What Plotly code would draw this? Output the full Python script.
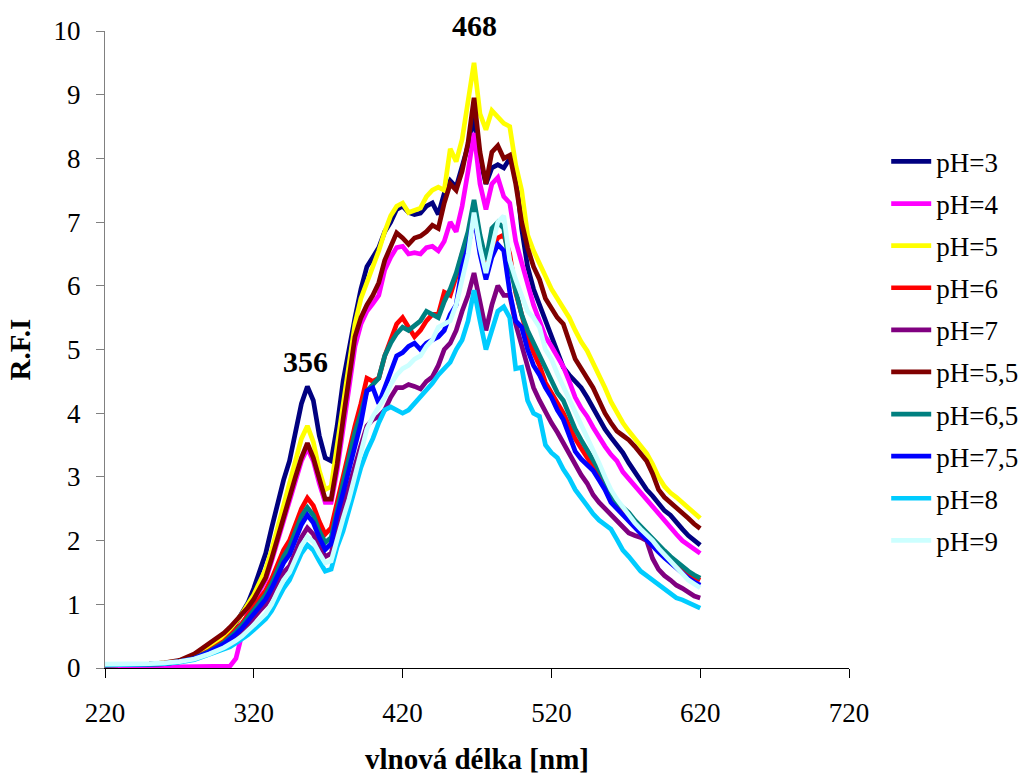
import plotly.graph_objects as go

# Wavelength grid (nm)
wavelength = [220, 230, 240, 250, 260, 270, 280, 290] + list(range(300, 621, 4))

series_names = ["pH=3", "pH=4", "pH=5", "pH=6", "pH=7", "pH=5,5", "pH=6,5", "pH=7,5", "pH=8", "pH=9"]

ph3 = [0.05, 0.05, 0.05, 0.06, 0.07, 0.1, 0.17, 0.3,
       0.45, 0.55, 0.7, 0.85, 1.02, 1.25, 1.55, 1.8, 2.2, 2.6,
       2.95, 3.25, 3.7, 4.15, 4.42, 4.2, 3.65, 3.3, 3.25, 3.8,
       4.5, 5.05, 5.5, 5.95, 6.3, 6.45, 6.6, 6.85, 7.0, 7.2,
       7.25, 7.15, 7.12, 7.14, 7.25, 7.3, 7.12, 7.45, 7.65, 7.55,
       7.9, 8.2, 8.65, 8.0, 7.6, 7.85, 7.9, 7.85, 8.0, 7.8,
       6.9, 6.3, 5.95, 5.7, 5.45, 5.2, 4.95, 4.72, 4.6, 4.5,
       4.4, 4.25, 4.08, 3.9, 3.75, 3.62, 3.5, 3.38, 3.22, 3.08,
       2.95, 2.8, 2.7, 2.57, 2.47, 2.4, 2.28, 2.18, 2.08, 2.0,
       1.93]

ph4 = [0.04, 0.04, 0.04, 0.04, 0.03, 0.02, 0.02, 0.02,
       0.02, 0.03, 0.15, 0.55, 0.9, 1.05, 1.2, 1.38, 1.68, 2.0,
       2.32, 2.58, 2.92, 3.25, 3.45, 3.25, 2.9, 2.6, 2.6, 3.1,
       3.75, 4.45, 5.05, 5.4, 5.6, 5.72, 5.85, 6.25, 6.45, 6.6,
       6.62, 6.5, 6.52, 6.5, 6.6, 6.62, 6.55, 6.7, 7.0, 6.85,
       7.25, 7.8, 8.4, 7.6, 7.2, 7.6, 7.7, 7.4, 7.3, 6.7,
       6.35, 6.0, 5.7, 5.45, 5.2, 5.05, 4.9, 4.73, 4.5, 4.25,
       4.08, 3.95, 3.78, 3.62, 3.48, 3.35, 3.25, 3.08, 2.97, 2.85,
       2.75, 2.64, 2.52, 2.42, 2.3, 2.2, 2.1, 2.0, 1.93, 1.86,
       1.8]

ph5 = [0.05, 0.05, 0.05, 0.06, 0.08, 0.11, 0.19, 0.33,
       0.5, 0.6, 0.72, 0.85, 1.0, 1.15, 1.35, 1.55, 1.85, 2.2,
       2.55, 2.95, 3.3, 3.6, 3.8, 3.55, 3.1, 2.8, 2.85, 3.5,
       4.2, 4.8, 5.4, 5.8, 6.05, 6.25, 6.55, 6.85, 7.1, 7.25,
       7.3, 7.15, 7.18, 7.22, 7.4, 7.5, 7.55, 7.5, 8.15, 7.95,
       8.3, 8.85, 9.5, 8.7, 8.45, 8.75, 8.65, 8.55, 8.5, 7.9,
       7.5, 6.8, 6.55, 6.35, 6.12, 5.95, 5.8, 5.65, 5.5, 5.3,
       5.12, 4.98, 4.8, 4.6, 4.4, 4.18, 4.0, 3.85, 3.72, 3.6,
       3.48, 3.37, 3.2, 3.0, 2.85, 2.75, 2.68, 2.6, 2.5, 2.42,
       2.35]

ph6 = [0.05, 0.05, 0.05, 0.06, 0.07, 0.1, 0.16, 0.27,
       0.42, 0.5, 0.6, 0.7, 0.83, 0.96, 1.1, 1.22, 1.4, 1.65,
       1.85, 2.0, 2.25, 2.5, 2.67, 2.55, 2.3, 2.1, 2.2, 2.6,
       3.05, 3.4, 3.8, 4.15, 4.55, 4.5, 4.55, 4.9, 5.15, 5.4,
       5.5, 5.35, 5.2, 5.3, 5.45, 5.55, 5.55, 5.9, 5.85, 6.15,
       6.5, 6.75, 7.0, 6.7, 6.3, 6.6, 6.75, 6.8, 6.5, 5.9,
       5.55, 5.2, 4.95, 4.75, 4.48, 4.32, 4.15, 4.0, 3.8, 3.6,
       3.45, 3.3, 3.18, 3.02, 2.88, 2.7, 2.58, 2.45, 2.38, 2.28,
       2.18, 2.1, 2.0, 1.92, 1.83, 1.72, 1.62, 1.55, 1.48, 1.42,
       1.38]

ph7 = [0.05, 0.05, 0.05, 0.06, 0.07, 0.1, 0.14, 0.24,
       0.36, 0.43, 0.5, 0.58, 0.68, 0.8, 0.9, 1.0, 1.15, 1.35,
       1.5, 1.6, 1.85, 2.05, 2.2, 2.1, 1.9, 1.75, 1.8, 2.2,
       2.55, 2.85, 3.2, 3.5, 3.8, 3.9, 3.95, 4.05, 4.25, 4.4,
       4.4, 4.45, 4.42, 4.38, 4.5, 4.57, 4.75, 5.0, 5.1, 5.3,
       5.6, 5.85, 6.2, 5.7, 5.3, 5.7, 6.0, 5.85, 5.85, 5.4,
       5.05, 4.7, 4.4, 4.2, 4.02, 3.85, 3.7, 3.53, 3.35, 3.18,
       3.03, 2.9, 2.72, 2.6, 2.5, 2.4, 2.32, 2.22, 2.12, 2.08,
       2.05, 2.0, 1.72, 1.55, 1.45, 1.38, 1.3, 1.25, 1.18, 1.13,
       1.1]

ph55 = [0.05, 0.05, 0.05, 0.06, 0.08, 0.12, 0.22, 0.38,
        0.55, 0.64, 0.74, 0.83, 0.95, 1.08, 1.25, 1.42, 1.72, 2.05,
        2.4, 2.68, 3.0, 3.3, 3.53, 3.3, 2.95, 2.65, 2.65, 3.2,
        3.9, 4.6, 5.2, 5.5, 5.7, 5.85, 6.05, 6.4, 6.6, 6.83,
        6.75, 6.65, 6.75, 6.78, 6.85, 6.95, 6.9, 7.3, 7.6, 7.5,
        7.8, 8.25, 8.95, 8.1, 7.6, 8.1, 8.2, 8.0, 8.05, 7.6,
        7.0, 6.6, 6.3, 6.1, 5.8, 5.65, 5.5, 5.4, 5.1, 4.85,
        4.7, 4.55, 4.4, 4.2, 4.0, 3.85, 3.72, 3.65, 3.58, 3.48,
        3.37, 3.25, 3.05, 2.8, 2.68, 2.6, 2.52, 2.45, 2.35, 2.26,
        2.19]

ph65 = [0.05, 0.05, 0.05, 0.06, 0.07, 0.1, 0.15, 0.26,
        0.4, 0.48, 0.57, 0.67, 0.79, 0.91, 1.03, 1.15, 1.32, 1.55,
        1.75, 1.9, 2.15, 2.38, 2.52, 2.4, 2.15, 1.97, 2.05, 2.5,
        2.9, 3.3, 3.7, 4.0, 4.35, 4.45, 4.55, 4.9, 5.1, 5.25,
        5.35, 5.3, 5.38, 5.45, 5.6, 5.55, 5.5, 5.75, 5.95, 6.2,
        6.5, 6.85, 7.35, 6.8, 6.4, 6.9, 7.0, 6.9, 6.3, 5.95,
        5.55, 5.3, 5.1, 4.9, 4.68, 4.5, 4.32, 4.2, 3.95, 3.75,
        3.58, 3.42, 3.28, 3.12, 2.95, 2.72, 2.6, 2.52, 2.44, 2.32,
        2.22, 2.12, 2.02, 1.93, 1.84, 1.75, 1.67, 1.6, 1.52, 1.46,
        1.41]

ph75 = [0.05, 0.05, 0.05, 0.06, 0.07, 0.1, 0.15, 0.25,
        0.38, 0.45, 0.53, 0.62, 0.73, 0.85, 0.97, 1.08, 1.25, 1.45,
        1.65, 1.78, 2.0, 2.25, 2.4, 2.28, 2.05, 1.86, 1.95, 2.4,
        2.75, 3.1, 3.5, 3.85, 4.35, 4.4, 4.15, 4.4, 4.65, 4.9,
        4.95, 5.05, 5.1, 5.0, 5.1, 5.15, 5.2, 5.3, 5.55, 5.7,
        6.3, 6.6, 7.1, 6.5, 6.1, 6.45, 6.65, 6.55, 5.9, 5.45,
        5.35, 5.0, 4.75, 4.6, 4.4, 4.25, 4.05, 3.9, 3.65, 3.4,
        3.28, 3.2, 3.1, 2.95, 2.8, 2.6, 2.5, 2.4, 2.3, 2.2,
        2.1, 2.0, 1.9, 1.82, 1.73, 1.65, 1.56, 1.48, 1.41, 1.35,
        1.3]

ph8 = [0.05, 0.05, 0.05, 0.06, 0.07, 0.09, 0.13, 0.21,
       0.28, 0.33, 0.39, 0.45, 0.52, 0.6, 0.68, 0.77, 0.9, 1.08,
       1.25, 1.38, 1.6, 1.8, 1.93, 1.85, 1.68, 1.52, 1.55, 1.9,
       2.15, 2.5, 2.85, 3.15, 3.4, 3.6, 3.85, 4.05, 4.1, 4.05,
       4.0, 4.05, 4.15, 4.25, 4.35, 4.47, 4.6, 4.7, 4.8, 5.0,
       5.15, 5.45, 5.93, 5.45, 5.0, 5.3, 5.6, 5.67, 5.5, 4.7,
       4.72, 4.2, 4.0, 3.95, 3.5, 3.38, 3.3, 3.12, 2.98, 2.8,
       2.66, 2.55, 2.42, 2.32, 2.25, 2.18, 2.02, 1.85, 1.75, 1.62,
       1.52, 1.45, 1.38, 1.3, 1.22, 1.16, 1.1, 1.07, 1.02, 0.98,
       0.94]

ph9 = [0.06, 0.06, 0.06, 0.07, 0.08, 0.1, 0.14, 0.22,
       0.32, 0.37, 0.43, 0.5, 0.58, 0.67, 0.76, 0.85, 1.0, 1.2,
       1.38, 1.5, 1.72, 1.92, 2.06, 1.98, 1.8, 1.65, 1.68, 2.05,
       2.35, 2.65, 3.0, 3.4, 3.75, 3.95, 4.1, 4.25, 4.45, 4.6,
       4.7, 4.75, 4.85, 4.9, 5.05, 5.15, 5.35, 5.4, 5.45, 5.7,
       6.1, 6.5, 7.15, 6.6, 6.2, 6.6, 7.0, 7.1, 6.4, 6.1,
       5.85, 5.6, 5.5, 5.35, 5.0, 4.85, 4.62, 4.42, 4.25, 4.05,
       3.85, 3.65, 3.42, 3.22, 3.0, 2.8, 2.65, 2.52, 2.4, 2.28,
       2.18, 2.1, 2.0, 1.88, 1.78, 1.68, 1.58, 1.48, 1.38, 1.32,
       1.26]

series_values = [ph3, ph4, ph5, ph6, ph7, ph55, ph65, ph75, ph8, ph9]
colors = ["#000080", "#FF00FF", "#FFFF00", "#FF0000", "#800080",
          "#800000", "#008080", "#0000FF", "#00CCFF", "#CCFFFF"]

x_ticks = [220, 320, 420, 520, 620, 720]
y_ticks = [0, 1, 2, 3, 4, 5, 6, 7, 8, 9, 10]

peak_labels = [(355, 4.52, "356"), (468, 9.8, "468")]

FONT = "Liberation Serif, Times New Roman, serif"

fig = go.Figure()
for name, vals, col in zip(series_names, series_values, colors):
    fig.add_trace(go.Scatter(
        x=wavelength, y=vals, mode="lines", name=name,
        legendgroup=name,
        line=dict(color=col, width=4.7, shape="linear"),
    ))

for xv, yv, txt in peak_labels:
    fig.add_annotation(x=xv, y=yv, text="<b>%s</b>" % txt, showarrow=False,
                       font=dict(family=FONT, size=30, color="black"),
                       yanchor="bottom")

fig.update_layout(
    width=1025, height=775,
    margin=dict(l=105, r=176, t=31, b=107, autoexpand=False),
    paper_bgcolor="white", plot_bgcolor="white",
    font=dict(family=FONT, size=27, color="black"),
    showlegend=True,
    legend=dict(x=1.05, y=0.833, xanchor="left", yanchor="top",
                font=dict(family=FONT, size=27, color="black"),
                tracegroupgap=4, bgcolor="rgba(0,0,0,0)",
                itemwidth=40),
    xaxis=dict(range=[220, 720], tickmode="array", tickvals=x_ticks,
               automargin=False,
               ticks="outside", ticklen=9, tickcolor="black", tickwidth=1,
               showline=True, linecolor="black", linewidth=1,
               showgrid=False, zeroline=False,
               tickfont=dict(family=FONT, size=27),
               ticklabelstandoff=12,
               title=dict(text="<b>vlnová délka [nm]</b>",
                          font=dict(family=FONT, size=29), standoff=26)),
    yaxis=dict(range=[0, 10], tickmode="array", tickvals=y_ticks,
               automargin=False,
               ticks="outside", ticklen=8, tickcolor="#808080", tickwidth=1,
               showline=True, linecolor="#808080", linewidth=1,
               showgrid=False, zeroline=False,
               tickfont=dict(family=FONT, size=27),
               ticklabelstandoff=10,
               title=dict(text="<b>R.F.I</b>",
                          font=dict(family=FONT, size=29), standoff=14)),
)

fig.write_html("out.html")
